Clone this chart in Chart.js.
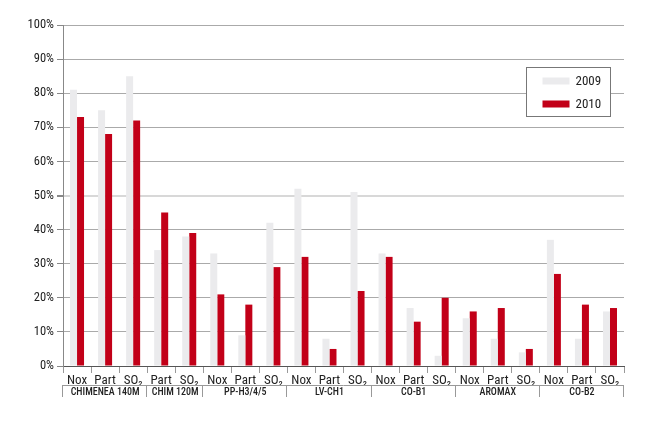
<!DOCTYPE html>
<html>
<head>
<meta charset="utf-8">
<script src="https://cdn.jsdelivr.net/npm/chart.js@4"></script>
<style>
  html, body { margin: 0; padding: 0; background: #fff; }
  canvas { display: block; }
</style>
</head>
<body>
<canvas id="emisionesChart" width="671" height="433"></canvas>
<script>
(() => {
  'use strict'

  const categories = ['Nox', 'Part', 'SO₂', 'Part', 'SO₂', 'Nox', 'Part', 'SO₂', 'Nox', 'Part', 'SO₂',
    'Nox', 'Part', 'SO₂', 'Nox', 'Part', 'SO₂', 'Nox', 'Part', 'SO₂'];
  const groups = ['CHIMENEA 140M', 'CHIM 120M', 'PP-H3/4/5', 'LV-CH1', 'CO-B1', 'AROMAX', 'CO-B2'];
  const groupSizes = [3, 2, 3, 3, 3, 3, 3];
  const values2009 = [81, 75, 85, 34, 38, 33, 9, 42, 52, 8, 51, 33, 17, 3, 14, 8, 4, 37, 8, 16];
  const values2010 = [73, 68, 72, 45, 39, 21, 18, 29, 32, 5, 22, 32, 13, 20, 16, 17, 5, 27, 18, 17];
  const yTicks = [0, 10, 20, 30, 40, 50, 60, 70, 80, 90, 100];

  const fontFamily = "'Roboto Condensed', 'Liberation Sans Narrow', 'DejaVu Sans Condensed', Roboto, sans-serif";

  // filas de grupos bajo el eje x
  const groupRow = {
    id: 'groupRow',
    afterDraw(chart) {
      const x = chart.scales.x;
      const ctx = chart.ctx;
      const top = chart.chartArea.bottom + 19;
      const half = (x.getPixelForValue(1) - x.getPixelForValue(0)) / 2;
      ctx.save();
      ctx.strokeStyle = '#999';
      ctx.lineWidth = 1;
      ctx.beginPath();
      ctx.moveTo(x.left, top + 0.5);
      ctx.lineTo(x.right, top + 0.5);
      let idx = 0;
      const bounds = [x.getPixelForValue(0) - half];
      groupSizes.forEach(n => {
        idx += n;
        bounds.push(x.getPixelForValue(idx - 1) + half);
      });
      bounds.forEach(b => {
        const px = Math.round(b) - 0.5;
        ctx.moveTo(px, top);
        ctx.lineTo(px, top + 12);
      });
      ctx.stroke();
      ctx.fillStyle = '#222';
      ctx.font = '500 10px ' + fontFamily;
      ctx.textAlign = 'center';
      ctx.textBaseline = 'middle';
      groups.forEach((g, i) => {
        ctx.fillText(g, (bounds[i] + bounds[i + 1]) / 2, top + 7);
      });
      ctx.restore();
    }
  };

  // leyenda dentro del área del gráfico
  const boxLegend = {
    id: 'boxLegend',
    afterDraw(chart) {
      const ctx = chart.ctx;
      const area = chart.chartArea;
      const bx = area.right - 97.5, by = area.top + 42.5, bw = 84, bh = 49;
      ctx.save();
      ctx.fillStyle = '#fff';
      ctx.fillRect(bx, by, bw, bh);
      ctx.strokeStyle = '#777';
      ctx.lineWidth = 1;
      ctx.strokeRect(bx, by, bw, bh);
      ctx.font = '13px ' + fontFamily;
      ctx.textBaseline = 'middle';
      chart.data.datasets.forEach((ds, i) => {
        const cy = by + 13 + i * 23;
        ctx.fillStyle = ds.backgroundColor;
        ctx.fillRect(bx + 16, cy - 3, 27, 7);
        ctx.fillStyle = '#222';
        ctx.fillText(ds.label, bx + 49, cy + 1);
      });
      ctx.restore();
    }
  };

  const ctx1 = document.getElementById('emisionesChart');
  const emisionesChart = new Chart(ctx1, {
    type: 'bar',
    data: {
      labels: categories,
      datasets: [{
        label: '2009',
        data: values2009,
        backgroundColor: '#ebebed',
        borderWidth: 0
      }, {
        label: '2010',
        data: values2010,
        backgroundColor: '#c20018',
        borderWidth: 0
      }]
    },
    options: {
      responsive: false,
      animation: false,
      devicePixelRatio: 1,
      layout: {
        padding: { left: 0, right: 47, top: 25, bottom: 0 }
      },
      datasets: {
        bar: {
          categoryPercentage: 0.5,
          barPercentage: 1
        }
      },
      scales: {
        x: {
          afterFit: scale => { scale.height = 67; },
          border: { color: '#555', width: 1 },
          grid: {
            offset: true,
            drawOnChartArea: false,
            tickLength: 7,
            color: '#999'
          },
          ticks: {
            color: '#222',
            padding: 0,
            maxRotation: 0,
            autoSkip: false,
            font: { family: fontFamily, size: 13 }
          }
        },
        y: {
          min: 0,
          max: 100,
          afterFit: scale => { scale.width = 63; },
          afterBuildTicks: scale => {
            scale.ticks = yTicks.map(v => ({ value: v }));
          },
          border: { color: '#888', width: 1 },
          grid: {
            color: c => (c.tick && c.tick.value === 50) ? '#d8d8d8' : '#aaa',
            lineWidth: c => (c.tick && c.tick.value === 50) ? 2 : 1,
            tickColor: '#888',
            tickLength: 6
          },
          ticks: {
            color: '#222',
            padding: 3,
            autoSkip: false,
            font: { family: fontFamily, size: 12.5 },
            callback: v => v + '%'
          }
        }
      },
      plugins: {
        legend: { display: false },
        tooltip: { enabled: false }
      }
    },
    plugins: [groupRow, boxLegend]
  });
})();
</script>
</body>
</html>
